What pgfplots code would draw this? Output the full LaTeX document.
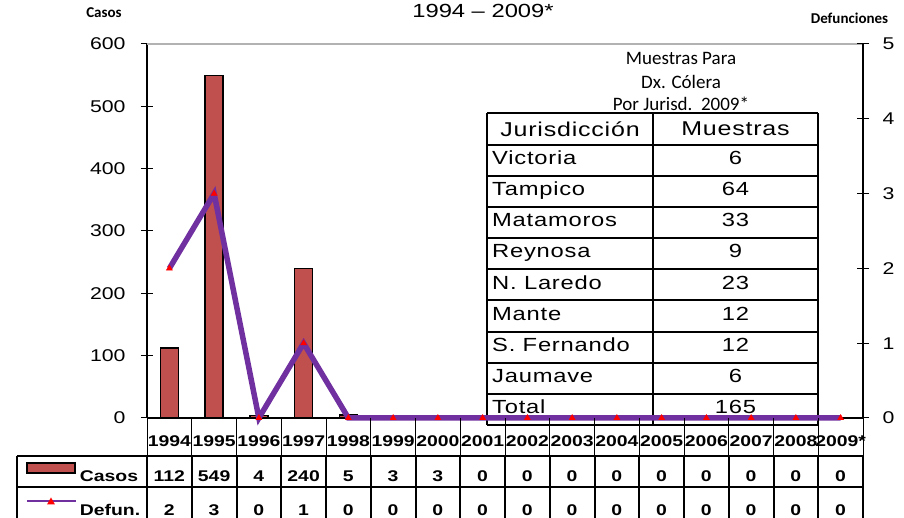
\documentclass[border=0pt]{standalone}
\usepackage{pgfplots}
\usepackage{pgfplotstable}
\pgfplotsset{compat=1.18}
\usepackage{fontspec}
\setmainfont{Liberation Sans}
\newfontfamily\arw{Liberation Sans}[FakeStretch=1.25]
\newfontfamily\arwh{Liberation Sans}[FakeStretch=1.25, LetterSpace=4]
\newfontfamily\calib{Carlito}
\definecolor{barred}{HTML}{C0504D}
\definecolor{linepurple}{HTML}{7030A0}

\pgfplotstableread{
idx casos defun
0 112 2
1 549 3
2 4 0
3 240 1
4 5 0
5 3 0
6 3 0
7 0 0
8 0 0
9 0 0
10 0 0
11 0 0
12 0 0
13 0 0
14 0 0
15 0 0
}\datatable

\pgfplotsset{
  common/.style={
    at={(0,0)}, anchor=south west,
    scale only axis, width=716pt, height=374pt,
    xmin=-0.5, xmax=15.5,
    xtick=\empty,
    tick align=center, major tick length=12pt,
    tick style={black, line width=1pt},
    /pgf/number format/assume math mode=true,
    clip=false,
  }
}

\begin{document}
\begin{tikzpicture}[x=1pt,y=1pt]
\useasboundingbox (-147,-100) rectangle (757,418);

% ---- left axis: Casos (bars)
\begin{axis}[common,
  ymin=0, ymax=600, ytick={0,100,...,600},
  axis x line*=bottom, axis y line*=left,
  axis line style={black, line width=1.5pt, -},
  yticklabel style={font=\arw\fontsize{17}{19}\selectfont, anchor=east, xshift=-12pt},
  ybar, bar width=18pt,
]
\draw[gray!60, line width=1.2pt] (axis cs:-0.5,600) -- (axis cs:15.5,600);
\addplot[fill=barred, draw=black, line width=1.4pt] table[x=idx,y=casos]{\datatable};
\end{axis}

% ---- inset table
\def\tl{340}\def\tm{506}\def\tr{671}\def\tt{304.5}\def\rh{31.15}
\foreach \i in {0,...,10}{
  \draw[black, line width=2pt] (\tl,{\tt-\i*\rh}) -- (\tr,{\tt-\i*\rh});
}
\draw[black, line width=2.2pt] (\tl,\tt) -- (\tl,{\tt-10*\rh});
\draw[black, line width=2.2pt] (\tm,\tt) -- (\tm,{\tt-10*\rh});
\draw[black, line width=2.2pt] (\tr,\tt) -- (\tr,{\tt-10*\rh});
\begin{scope}[every node/.style={font=\arwh\fontsize{20}{22}\selectfont, inner sep=0pt}]
\node at (423,{\tt-0.5*\rh}) {Jurisdicción};
\node at (588.5,{\tt-0.5*\rh}) {Muestras};
\end{scope}
\begin{scope}[every node/.style={font=\arwh\fontsize{19}{21}\selectfont, inner sep=0pt}]
\foreach \n/\v [count=\k] in {Victoria/6, Tampico/64, Matamoros/33, Reynosa/9, N. Laredo/23, Mante/12, S. Fernando/12, Jaumave/6, Total/165}{
  \node[anchor=west] at (345,{\tt-(\k+0.5)*\rh}) {\strut\n};
  \node at (588.5,{\tt-(\k+0.5)*\rh}) {\strut\v};
}
\end{scope}
\begin{scope}[every node/.style={font=\calib\fontsize{19}{22}\selectfont, inner sep=0pt}]
\node at (534,360) {Muestras Para};
\node at (534,336.3) {Dx. Cólera};
\node at (534,314.5) {Por Jurisd.\ \ 2009*};
\end{scope}

% ---- right axis: Defunciones (line)
\begin{axis}[common,
  ymin=0, ymax=5, ytick={0,1,...,5},
  axis x line=none, axis y line*=right,
  axis line style={black, line width=1.5pt, -},
  yticklabel style={font=\arw\fontsize{17}{19}\selectfont, anchor=west, xshift=10pt},
]
\addplot[linepurple, line width=5.5pt, mark=triangle*, mark size=3.6pt,
  mark options={solid, fill=red, draw=red, line width=0.3pt}]
  table[x=idx,y=defun]{\datatable};
\end{axis}

% ---- titles
\node[font=\arw\fontsize{19}{22}\selectfont, inner sep=0pt] at (336,407.5) {1994 – 2009*};
\node[font=\calib\bfseries\fontsize{15}{17}\selectfont, inner sep=0pt] at (-43,405) {Casos};
\node[font=\calib\bfseries\fontsize{15}{17}\selectfont, inner sep=0pt] at (702.5,400) {Defunciones};

% ---- data table under the axis
\def\cw{44.75}
\foreach \k in {0,...,16}{
  \draw[black, line width=1pt] ({\k*\cw},0) -- ({\k*\cw},-38);
  \draw[black, line width=2pt] ({\k*\cw},-38) -- ({\k*\cw},-100);
}
\draw[black, line width=2pt] (-130,-38) -- (716,-38);
\draw[black, line width=2pt] (-130,-69) -- (716,-69);
\draw[black, line width=2pt] (-130,-38) -- (-130,-100);
\begin{scope}[every node/.style={font=\arw\bfseries\fontsize{15.5}{17}\selectfont, inner sep=0pt}]
\foreach \y [count=\k from 0] in {1994,1995,1996,1997,1998,1999,2000,2001,2002,2003,2004,2005,2006,2007,2008,2009*}{
  \node at ({(\k+0.5)*\cw},-23) {\y};
}
\foreach \v [count=\k from 0] in {112,549,4,240,5,3,3,0,0,0,0,0,0,0,0,0}{
  \node at ({(\k+0.5)*\cw},-58) {\v};
}
\foreach \v [count=\k from 0] in {2,3,0,1,0,0,0,0,0,0,0,0,0,0,0,0}{
  \node at ({(\k+0.5)*\cw},-92) {\v};
}
\node at (-38,-58) {Casos};
\node at (-37,-92) {Defun.};
\end{scope}
% legend keys
\filldraw[fill=barred, draw=black, line width=1.5pt] (-120,-55) rectangle (-72,-45);
\draw[linepurple, line width=2pt] (-120,-83) -- (-71,-83);
\fill[red] (-100,-86.5) -- (-92,-86.5) -- (-96,-79.5) -- cycle;
\end{tikzpicture}
\end{document}
